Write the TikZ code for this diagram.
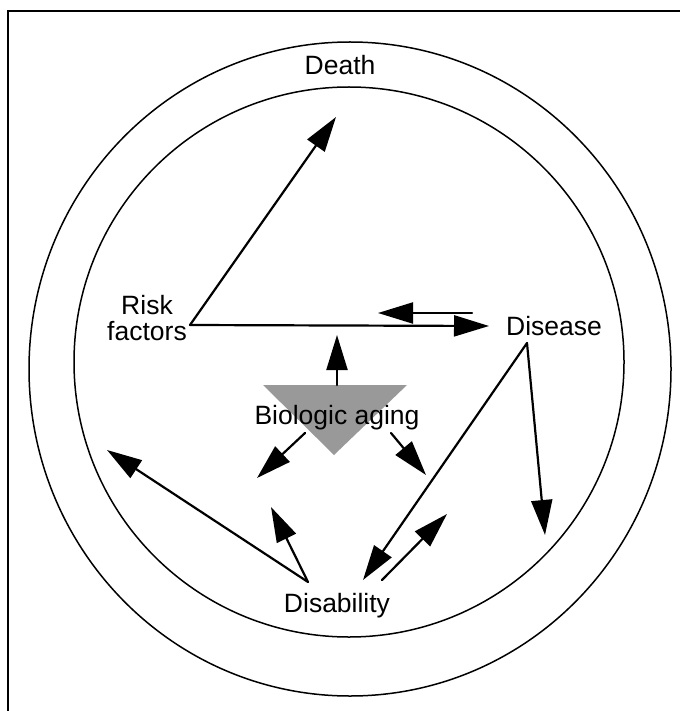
\documentclass[tikz,border=0pt]{standalone}
\usepackage{fontspec}
\setmainfont{Liberation Sans}
\usetikzlibrary{arrows.meta,positioning}
\begin{document}
\begin{tikzpicture}[
        x=1pt, y=-1pt,
        every node/.style={inner sep=0pt, font=\fontsize{26.5}{26}\selectfont},
        ring/.style={draw, line width=1.5pt},
        link/.style={draw, line width=2.2pt, line cap=round,
            -{Triangle[length=35pt, width=21pt]}},
    ]
    \useasboundingbox (0,0) rectangle (680,711);
    \draw[line width=1.8pt] (8,711) -- (8,11) -- (680,11);
    \draw[ring] (350,369) ellipse [x radius=321, y radius=327];
    \draw[ring] (349,362) circle [radius=275];

    \fill[black!40] (263,385) -- (407,385) -- (334,455) -- cycle;

    \node[anchor=base] (death) at (340,75) {Death};
    \node[align=center] (risk) at (147,318) {Risk\\factors};
    \node[anchor=base] (disease) at (554,335) {Disease};
    \node[anchor=base] (aging) at (337,424) {Biologic aging};
    \node[anchor=base] (disability) at (337,612) {Disability};

    \coordinate (riskpt) at (190,325);
    \coordinate (deathpt) at (336,117);
    \coordinate (diseasein) at (489,326);
    \coordinate (backfrom) at (472,313);
    \coordinate (backto) at (378,313);
    \coordinate (agingtop) at (337,385);
    \coordinate (agingup) at (337,335);
    \coordinate (agingl) at (305,433);
    \coordinate (agingld) at (257,478);
    \coordinate (agingr) at (391,433);
    \coordinate (agingrd) at (426,475);
    \coordinate (diseasept) at (527,343);
    \coordinate (diseasedown) at (545,535);
    \coordinate (disabin) at (363,580);
    \coordinate (disabout) at (382,580);
    \coordinate (disabout2) at (447,514);
    \coordinate (disabpt) at (308,582);
    \coordinate (disabfar) at (107,450);
    \coordinate (disabnear) at (271,507);

    \draw[link] (riskpt) -- (deathpt);
    \draw[link] (riskpt) -- (diseasein);
    \draw[link] (backfrom) -- (backto);
    \draw[link] (agingtop) -- (agingup);
    \draw[link] (agingl) -- (agingld);
    \draw[link] (agingr) -- (agingrd);
    \draw[link] (diseasept) -- (diseasedown);
    \draw[link] (diseasept) -- (disabin);
    \draw[link] (disabout) -- (disabout2);
    \draw[link] (disabpt) -- (disabfar);
    \draw[link] (disabpt) -- (disabnear);
\end{tikzpicture}
\end{document}
